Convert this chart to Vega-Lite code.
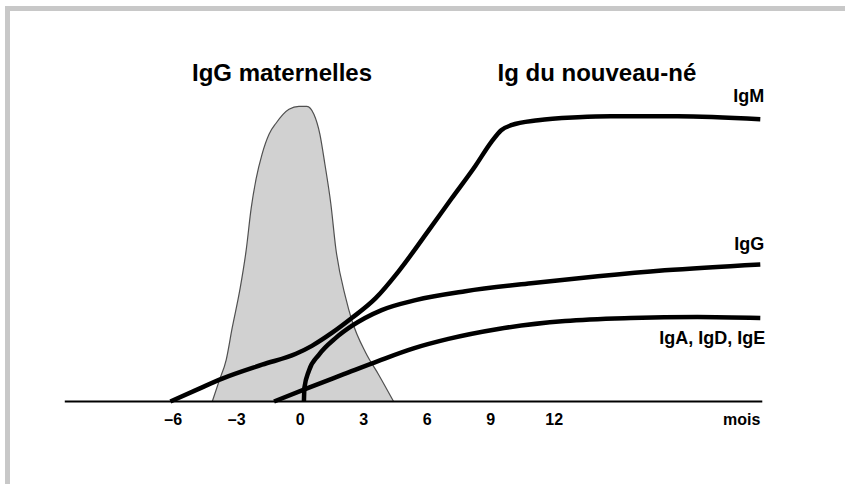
{
  "$schema": "https://vega.github.io/schema/vega-lite/v6.json",
  "width": 848,
  "height": 487,
  "autosize": {"type": "fit", "contains": "padding"},
  "padding": 0,
  "background": "white",
  "config": {"view": {"stroke": null}},
  "datasets": {
    "curves": [
      {"series": "IgM", "month": -6.135, "level": 0},
      {"series": "IgM", "month": -4.769, "level": 4.38},
      {"series": "IgM", "month": -3.686, "level": 7.74},
      {"series": "IgM", "month": -1.803, "level": 12.46},
      {"series": "IgM", "month": -0.202, "level": 16.16},
      {"series": "IgM", "month": 0.551, "level": 18.86},
      {"series": "IgM", "month": 1.492, "level": 23.23},
      {"series": "IgM", "month": 2.434, "level": 28.28},
      {"series": "IgM", "month": 3.564, "level": 35.02},
      {"series": "IgM", "month": 4.647, "level": 44.11},
      {"series": "IgM", "month": 6.059, "level": 57.91},
      {"series": "IgM", "month": 7.142, "level": 68.69},
      {"series": "IgM", "month": 8.272, "level": 79.8},
      {"series": "IgM", "month": 9.025, "level": 87.88},
      {"series": "IgM", "month": 9.496, "level": 91.92},
      {"series": "IgM", "month": 9.967, "level": 93.6},
      {"series": "IgM", "month": 11.238, "level": 95.29},
      {"series": "IgM", "month": 13.121, "level": 96.3},
      {"series": "IgM", "month": 14.675, "level": 96.63},
      {"series": "IgM", "month": 17.83, "level": 96.63},
      {"series": "IgM", "month": 21.737, "level": 95.62},
      {"series": "IgG", "month": 0.174, "level": 0},
      {"series": "IgG", "month": 0.198, "level": 4.71},
      {"series": "IgG", "month": 0.41, "level": 10.44},
      {"series": "IgG", "month": 0.88, "level": 15.82},
      {"series": "IgG", "month": 1.681, "level": 21.55},
      {"series": "IgG", "month": 2.434, "level": 25.59},
      {"series": "IgG", "month": 3.847, "level": 30.98},
      {"series": "IgG", "month": 5.447, "level": 34.34},
      {"series": "IgG", "month": 7.801, "level": 37.37},
      {"series": "IgG", "month": 10.909, "level": 40.07},
      {"series": "IgG", "month": 14.063, "level": 42.42},
      {"series": "IgG", "month": 17.218, "level": 44.44},
      {"series": "IgG", "month": 21.737, "level": 46.46},
      {"series": "IgA", "month": -1.238, "level": 0},
      {"series": "IgA", "month": 0.41, "level": 4.71},
      {"series": "IgA", "month": 2.058, "level": 9.26},
      {"series": "IgA", "month": 3.706, "level": 13.8},
      {"series": "IgA", "month": 5.353, "level": 18.01},
      {"series": "IgA", "month": 7.001, "level": 21.21},
      {"series": "IgA", "month": 9.355, "level": 24.58},
      {"series": "IgA", "month": 12.509, "level": 27.27},
      {"series": "IgA", "month": 15.617, "level": 28.28},
      {"series": "IgA", "month": 18.771, "level": 28.62},
      {"series": "IgA", "month": 21.737, "level": 28.28}
    ],
    "maternal": [
      {"month": -4.157, "level": 0},
      {"month": -3.828, "level": 7.07},
      {"month": -3.498, "level": 14.14},
      {"month": -3.216, "level": 24.92},
      {"month": -2.839, "level": 38.38},
      {"month": -2.556, "level": 51.18},
      {"month": -2.321, "level": 65.32},
      {"month": -2.086, "level": 75.42},
      {"month": -1.803, "level": 83.84},
      {"month": -1.474, "level": 90.57},
      {"month": -1.144, "level": 94.28},
      {"month": -0.532, "level": 98.99},
      {"month": -0.061, "level": 100},
      {"month": 0.315, "level": 100},
      {"month": 0.645, "level": 97.31},
      {"month": 0.927, "level": 90.57},
      {"month": 1.163, "level": 80.47},
      {"month": 1.445, "level": 67.0},
      {"month": 1.681, "level": 51.85},
      {"month": 2.152, "level": 35.02},
      {"month": 2.434, "level": 27.61},
      {"month": 3.093, "level": 16.5},
      {"month": 3.705, "level": 9.09},
      {"month": 4.411, "level": 0}
    ],
    "ticks": [
      {"month": -6, "label": "–6"},
      {"month": -3, "label": "–3"},
      {"month": 0, "label": "0"},
      {"month": 3, "label": "3"},
      {"month": 6, "label": "6"},
      {"month": 9, "label": "9"},
      {"month": 12, "label": "12"}
    ],
    "curveLabels": [
      {"text": "IgM", "month": 21.926, "level": 103.0},
      {"text": "IgG", "month": 21.926, "level": 53.0},
      {"text": "IgA, IgD, IgE", "month": 21.97, "level": 21.2}
    ],
    "titles": [
      {"text": "IgG maternelles", "month": -0.862, "level": 111.1},
      {"text": "Ig du nouveau-né", "month": 14.016, "level": 111.1}
    ]
  },
  "layer": [
    {
      "data": {"values": [{}]},
      "mark": {"type": "rule", "stroke": "#c8c8c8", "strokeWidth": 5},
      "encoding": {
        "x": {"datum": -13.832, "type": "quantitative", "scale": {"domain": [-14.186, 25.739], "nice": false, "zero": false}, "axis": null},
        "y": {"datum": 133.16, "type": "quantitative", "scale": {"domain": [-27.946, 136.027], "nice": false, "zero": false}, "axis": null},
        "y2": {"datum": -27.946}
      }
    },
    {
      "data": {"values": [{}]},
      "mark": {"type": "rule", "stroke": "#c8c8c8", "strokeWidth": 5},
      "encoding": {
        "x": {"datum": -13.95, "type": "quantitative"},
        "x2": {"datum": 25.739},
        "y": {"datum": 133.16, "type": "quantitative"}
      }
    },
    {
      "data": {"name": "maternal"},
      "mark": {"type": "area", "interpolate": "monotone", "fill": "#d1d1d1", "stroke": "#505050", "strokeWidth": 1.2},
      "encoding": {
        "x": {"field": "month", "type": "quantitative"},
        "y": {"field": "level", "type": "quantitative"}
      }
    },
    {
      "data": {"values": [{}]},
      "mark": {"type": "rule", "stroke": "black", "strokeWidth": 2},
      "encoding": {
        "x": {"datum": -11.125, "type": "quantitative"},
        "x2": {"datum": 21.831},
        "y": {"datum": 0, "type": "quantitative"}
      }
    },
    {
      "data": {"name": "curves"},
      "mark": {"type": "line", "interpolate": "monotone", "stroke": "black", "strokeWidth": 4.5, "strokeCap": "butt"},
      "encoding": {
        "x": {"field": "month", "type": "quantitative"},
        "y": {"field": "level", "type": "quantitative"},
        "detail": {"field": "series"}
      }
    },
    {
      "data": {"name": "ticks"},
      "mark": {"type": "text", "font": "Liberation Sans", "fontWeight": "bold", "fontSize": 16, "align": "center", "baseline": "middle", "fill": "black"},
      "encoding": {
        "x": {"field": "month", "type": "quantitative"},
        "y": {"datum": -6.2, "type": "quantitative"},
        "text": {"field": "label"}
      }
    },
    {
      "data": {"values": [{"text": "mois", "month": 21.737}]},
      "mark": {"type": "text", "font": "Liberation Sans", "fontWeight": "bold", "fontSize": 16, "align": "right", "baseline": "middle", "fill": "black"},
      "encoding": {
        "x": {"field": "month", "type": "quantitative"},
        "y": {"datum": -6.2, "type": "quantitative"},
        "text": {"field": "text"}
      }
    },
    {
      "data": {"name": "curveLabels"},
      "mark": {"type": "text", "font": "Liberation Sans", "fontWeight": "bold", "fontSize": 18, "align": "right", "baseline": "middle", "fill": "black"},
      "encoding": {
        "x": {"field": "month", "type": "quantitative"},
        "y": {"field": "level", "type": "quantitative"},
        "text": {"field": "text"}
      }
    },
    {
      "data": {"name": "titles"},
      "mark": {"type": "text", "font": "Liberation Sans", "fontWeight": "bold", "fontSize": 24, "align": "center", "baseline": "middle", "fill": "black"},
      "encoding": {
        "x": {"field": "month", "type": "quantitative"},
        "y": {"field": "level", "type": "quantitative"},
        "text": {"field": "text"}
      }
    }
  ]
}
